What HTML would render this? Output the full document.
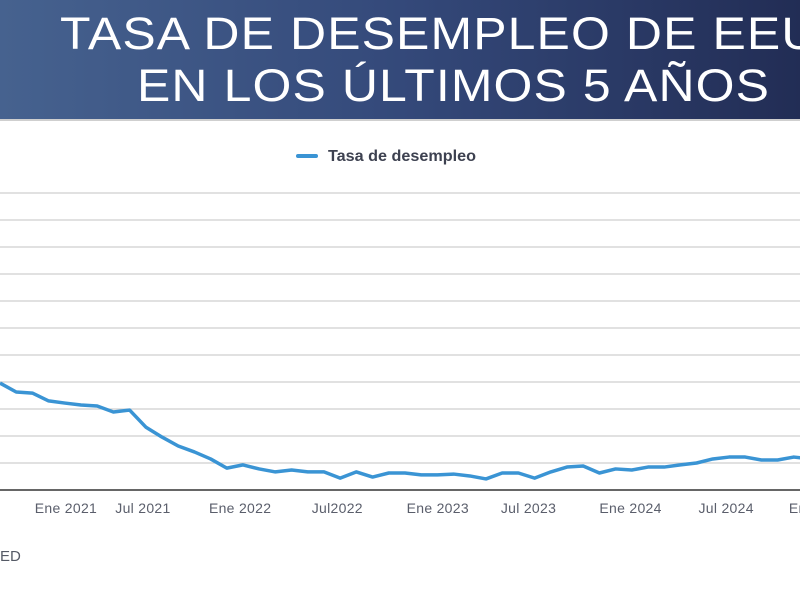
<!DOCTYPE html>
<html><head><meta charset="utf-8">
<style>
html,body{margin:0;padding:0;width:800px;height:600px;overflow:hidden;background:#fff;font-family:"Liberation Sans",sans-serif;}
#header{position:absolute;left:0;top:0;width:800px;height:119px;background:linear-gradient(90deg,#46628f 0%,#34497a 50%,#222d55 100%);border-bottom:2px solid #cfcfcf;overflow:hidden;}
.t{position:absolute;color:#fff;font-size:45px;white-space:nowrap;letter-spacing:1px;font-weight:normal;transform-origin:0 0;transform:scaleX(1.11);}
</style></head><body>
<div id="header">
<div class="t" style="left:60px;top:8px;">TASA DE DESEMPLEO DE EEUU</div>
<div class="t" style="left:137px;top:60px;">EN LOS ÚLTIMOS 5 AÑOS</div>
</div>
<svg id="chart" width="800" height="600" style="position:absolute;left:0;top:0"></svg>
<div style="position:absolute;left:0;top:548px;font-size:15px;color:#555a66;">ED</div>
<script>
const values=[6.96,6.63,6.59,6.30,6.22,6.15,6.11,5.89,5.96,5.33,4.96,4.63,4.41,4.15,3.81,3.93,3.78,3.67,3.74,3.67,3.67,3.44,3.67,3.48,3.63,3.63,3.56,3.56,3.59,3.52,3.41,3.63,3.63,3.44,3.67,3.85,3.89,3.63,3.78,3.74,3.85,3.85,3.93,4.0,4.15,4.22,4.22,4.11,4.11,4.22,4.15];
const tickLabels=["Ene 2021","Jul 2021","Ene 2022","Jul2022","Ene 2023","Jul 2023","Ene 2024","Jul 2024","Ene 2025"];
const tickIndex=[3.95,8.7,14.7,20.7,26.9,32.5,38.8,44.7,50.5];
const gridValues=[3,4,5,6,7,8,9,10,11,12,13,14];
const svg=document.getElementById('chart');
const NS='http://www.w3.org/2000/svg';
const xs=i=>i*16.2;
const ys=v=>490-(v-3)*27;
function mk(t,a){const e=document.createElementNS(NS,t);for(const k in a)e.setAttribute(k,a[k]);svg.appendChild(e);return e;}
gridValues.forEach(g=>{
  const l=mk('line',{x1:0,x2:800,y1:ys(g),y2:ys(g),stroke:g===3?'#666':'#cfcfcf','stroke-width':g===3?2:1.2});
  
  
});
tickLabels.forEach((s,k)=>{
  const t=mk('text',{x:xs(tickIndex[k])+2,y:513,'text-anchor':'middle','font-size':14,fill:'#5a5e6b','font-family':'Liberation Sans, sans-serif','letter-spacing':'0.3'});
  t.textContent=s;
  
  
});
const p=mk('polyline',{points:values.map((v,i)=>xs(i)+','+ys(v)).join(' '),fill:'none',stroke:'#3a94d4','stroke-width':3.5,'stroke-linejoin':'round'});


const ll=mk('line',{x1:298,x2:316,y1:156,y2:156,stroke:'#3a94d4','stroke-width':4,'stroke-linecap':'round'});


const lt=mk('text',{x:328,y:161,'font-size':16,fill:'#3d4150','font-weight':'bold','font-family':'Liberation Sans Narrow, Liberation Sans, sans-serif',textLength:148,lengthAdjust:'spacingAndGlyphs'});
lt.textContent='Tasa de desempleo';


</script>
</body></html>
